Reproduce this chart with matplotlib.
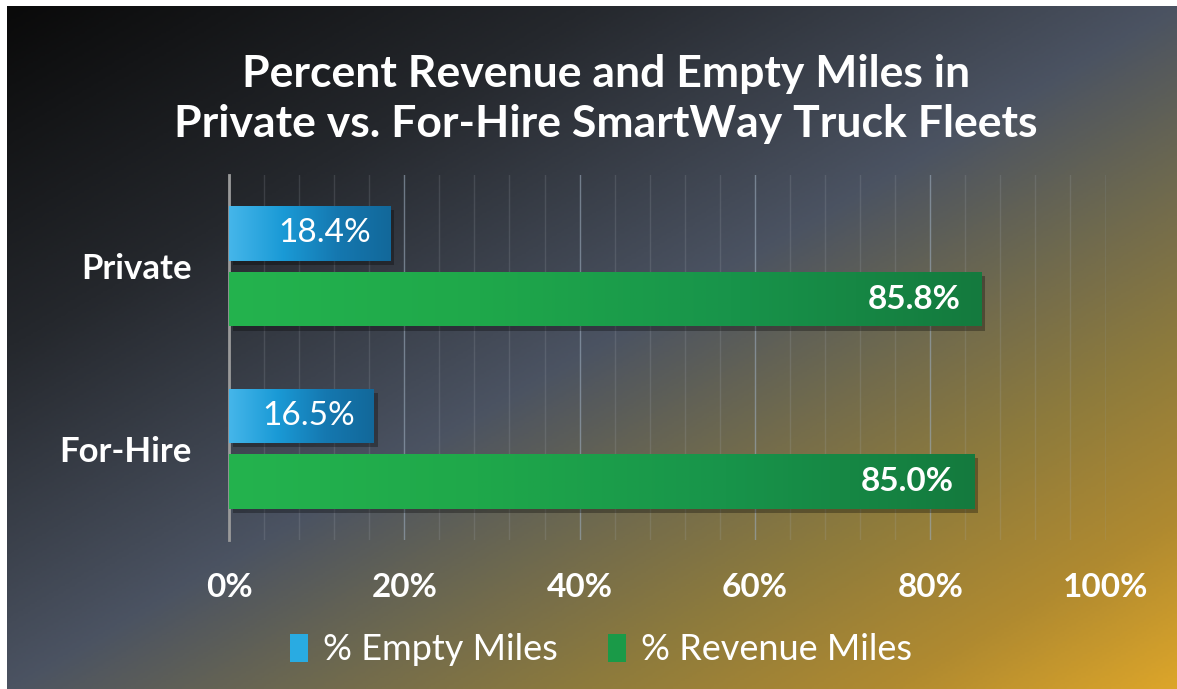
import numpy as np
import matplotlib.pyplot as plt
import matplotlib.patheffects as pe
from matplotlib.colors import LinearSegmentedColormap
from matplotlib.patches import Patch
from matplotlib.ticker import MultipleLocator, FuncFormatter

plt.rcParams["font.family"] = ["Lato", "DejaVu Sans"]

# データ
categories = ["Private", "For-Hire"]
empty_miles = [18.4, 16.5]      # % Empty Miles
revenue_miles = [85.8, 85.0]    # % Revenue Miles
series_names = ["% Empty Miles", "% Revenue Miles"]
title = "Percent Revenue and Empty Miles in\nPrivate vs. For-Hire SmartWay Truck Fleets"

W, H = 1177, 689
fig = plt.figure(figsize=(W / 100, H / 100), dpi=100)
fig.patch.set_facecolor("white")

# 背景のグラデーション（左上：黒 → 中央：グレー → 右下：金色）
bg_ax = fig.add_axes([7 / W, 0, (W - 7) / W, (H - 6) / H])
bg_ax.set_axis_off()
yy, xx = np.mgrid[0:1:300j, 0:1:500j]
t = (xx + yy) / 2
bg_cmap = LinearSegmentedColormap.from_list(
    "bg",
    [(0.0, "#0a0a0a"), (0.25, "#25282d"), (0.5, "#4b5362"), (0.62, "#6c6850"),
     (0.75, "#8e7b3c"), (0.88, "#b08a30"), (1.0, "#dca52a")])
bg_ax.imshow(t, cmap=bg_cmap, aspect="auto", extent=[0, 1, 1, 0], vmin=0, vmax=1)
bg_ax.set_xlim(0, 1)
bg_ax.set_ylim(1, 0)

# メインのグラフ
ax = fig.add_axes([229 / W, (H - 540) / H, (1105.5 - 229) / W, (540 - 175) / H])
ax.set_facecolor("none")

y = np.arange(len(categories))
h = 0.3
off = 0.18
bars_e = ax.barh(y - off, empty_miles, height=h, color="#1e9fda", zorder=3)
bars_r = ax.barh(y + off, revenue_miles, height=h, color="#1ea84a", zorder=3)

blue_cmap = LinearSegmentedColormap.from_list("b", ["#45b6ea", "#1a9ad6", "#1578b0", "#12689a"])
green_cmap = LinearSegmentedColormap.from_list("g", ["#24b34e", "#1fa84a", "#18944a", "#147a3e"])
grad = np.linspace(0, 1, 256).reshape(1, -1)

for bars, cmap in [(bars_e, blue_cmap), (bars_r, green_cmap)]:
    for b in bars:
        b.set_path_effects([pe.SimplePatchShadow(offset=(3, -3), shadow_rgbFace="black", alpha=0.3),
                            pe.Normal()])
        x0, y0, bw, bh = b.get_x(), b.get_y(), b.get_width(), b.get_height()
        im = ax.imshow(grad, cmap=cmap, aspect="auto", extent=[x0, x0 + bw, y0 + bh, y0], zorder=4)
        im.set_clip_path(b)

# データラベル
for b, v in zip(bars_e, empty_miles):
    ax.annotate(f"{v:.1f}%", (b.get_width(), b.get_y() + b.get_height() / 2),
                xytext=(-19, 0), textcoords="offset pixels", ha="right", va="center",
                color="white", fontsize=24, zorder=6)
for b, v in zip(bars_r, revenue_miles):
    ax.annotate(f"{v:.1f}%", (b.get_width(), b.get_y() + b.get_height() / 2),
                xytext=(-20, 0), textcoords="offset pixels", ha="right", va="center",
                color="white", fontsize=24, fontweight="bold", zorder=6)

ax.set_xlim(0, 100)
ax.set_ylim(1.5, -0.5)
ax.xaxis.set_major_locator(MultipleLocator(20))
ax.xaxis.set_minor_locator(MultipleLocator(4))
ax.xaxis.set_major_formatter(FuncFormatter(lambda v, p: f"{v:.0f}%"))
ax.grid(True, which="major", axis="x", color="#9aaabb", alpha=0.6, linewidth=1, zorder=0)
ax.grid(True, which="minor", axis="x", color="#aab0b8", alpha=0.18, linewidth=1, zorder=0)
ax.set_yticks(y)
ax.set_yticklabels(categories)
ax.tick_params(axis="both", which="both", length=0, colors="white")
ax.tick_params(axis="x", pad=24, labelsize=24)
ax.tick_params(axis="y", pad=27, labelsize=25)
for lab in ax.get_xticklabels() + ax.get_yticklabels():
    lab.set_fontweight("bold")
for s in ["top", "right", "bottom"]:
    ax.spines[s].set_visible(False)
ax.spines["left"].set_color("#9a9a9a")
ax.spines["left"].set_linewidth(2)

# タイトル
fig.text(606 / W, 1 - 99 / H, title, ha="center", va="center", color="white",
         fontsize=32, fontweight="bold", linespacing=1.3)

# 凡例
handles = [Patch(facecolor="#29abe2", edgecolor="none"), Patch(facecolor="#1a9a48", edgecolor="none")]
fig.legend(handles, series_names, loc="center", bbox_to_anchor=(601 / W, 1 - 650 / H), ncol=2,
           frameon=False, fontsize=26, labelcolor="white", handlelength=0.5, handleheight=0.8,
           handletextpad=0.4, columnspacing=1.4)

plt.savefig("out.png", dpi=100)
